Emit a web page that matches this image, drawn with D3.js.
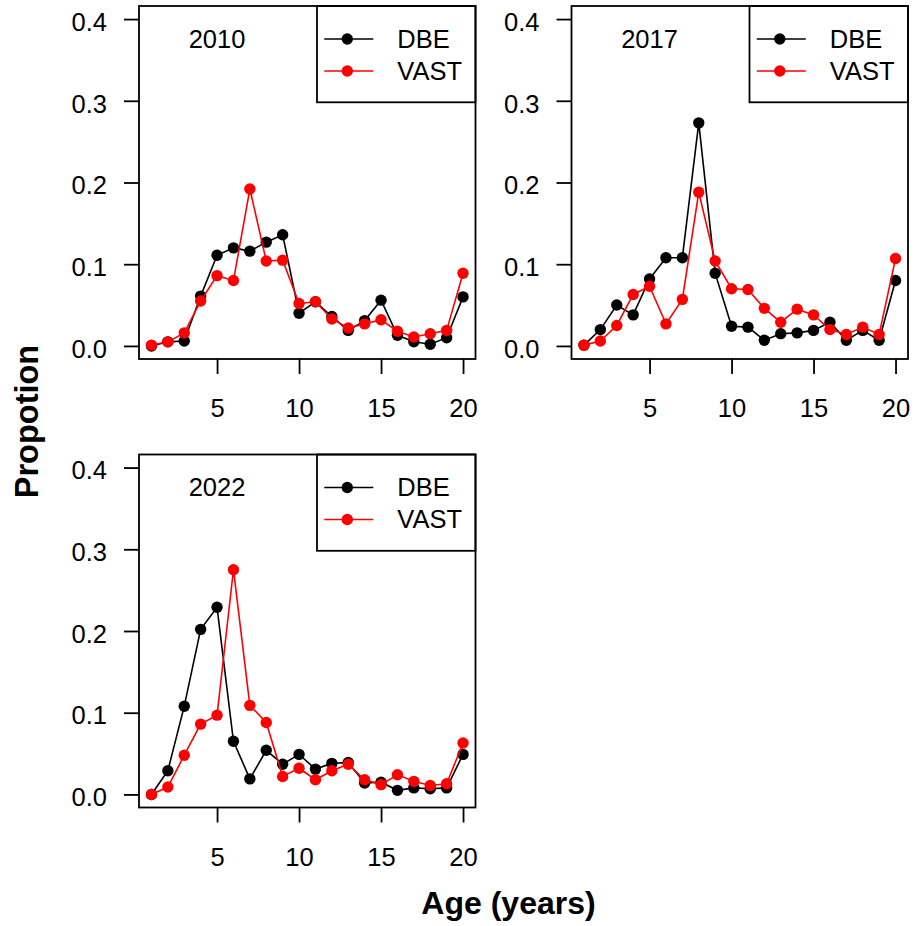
<!DOCTYPE html>
<html>
<head>
<meta charset="utf-8">
<script src="https://cdn.jsdelivr.net/npm/d3@7"></script>
<style>
  html, body { margin: 0; padding: 0; background: #fff; }
  svg { display: block; font-family: "Liberation Sans", Arial, Helvetica, sans-serif; }
</style>
</head>
<body>
<svg id="chart" width="914" height="926"></svg>
<script>
const ages = d3.range(1, 21);
const years = ["2010", "2017", "2022"];
const seriesNames = ["DBE", "VAST"];
const seriesColors = ["#000000", "#ff0000"];
const yTicks = [0.0, 0.1, 0.2, 0.3, 0.4];
const xTicks = [5, 10, 15, 20];

const dbe2010  = [0.000, 0.005, 0.006, 0.061, 0.111, 0.120, 0.116, 0.127, 0.136, 0.040, 0.054, 0.036, 0.019, 0.031, 0.056, 0.013, 0.005, 0.002, 0.010, 0.060];
const vast2010 = [0.001, 0.005, 0.016, 0.055, 0.086, 0.080, 0.192, 0.104, 0.105, 0.052, 0.054, 0.033, 0.022, 0.027, 0.032, 0.018, 0.011, 0.015, 0.019, 0.089];
const dbe2017  = [0.001, 0.020, 0.050, 0.038, 0.082, 0.108, 0.108, 0.273, 0.089, 0.024, 0.023, 0.007, 0.015, 0.016, 0.019, 0.029, 0.007, 0.019, 0.007, 0.080];
const vast2017 = [0.001, 0.006, 0.025, 0.063, 0.073, 0.027, 0.057, 0.188, 0.104, 0.070, 0.069, 0.046, 0.029, 0.045, 0.038, 0.020, 0.014, 0.023, 0.014, 0.107];
const dbe2022  = [0.000, 0.029, 0.108, 0.202, 0.229, 0.065, 0.019, 0.054, 0.037, 0.049, 0.031, 0.038, 0.039, 0.014, 0.015, 0.005, 0.008, 0.007, 0.008, 0.049];
const vast2022 = [0.000, 0.009, 0.048, 0.086, 0.097, 0.275, 0.109, 0.088, 0.022, 0.032, 0.018, 0.029, 0.037, 0.018, 0.012, 0.024, 0.016, 0.011, 0.013, 0.063];

const panels = [
  { year: years[0], series: [dbe2010, vast2010], x0: 139,   y0: 6 },
  { year: years[1], series: [dbe2017, vast2017], x0: 571.5, y0: 6 },
  { year: years[2], series: [dbe2022, vast2022], x0: 139,   y0: 454.5 }
];

const W = 336.5, H = 353;
const svg = d3.select("#chart");
const tickLen = 15;
const fontSize = 25.5;
const ff = '"Liberation Sans", Arial, sans-serif';

panels.forEach(p => {
  const g = svg.append("g").attr("transform", `translate(${p.x0},${p.y0})`);
  const x = d3.scaleLinear().domain([1 - 0.76, 20 + 0.76]).range([0, W]);
  const y = d3.scaleLinear().domain([-0.016, 0.416]).range([H, 0]);

  // x axis
  const xAxis = d3.axisBottom(x).tickValues(xTicks).tickFormat(d3.format("d"))
    .tickSizeOuter(0).tickSizeInner(tickLen).tickPadding(25);
  const gx = g.append("g").attr("transform", `translate(0,${H})`).call(xAxis);
  gx.select(".domain").remove();
  gx.selectAll("line").attr("stroke", "#000").attr("stroke-width", 1.8);
  gx.selectAll("text").attr("font-size", fontSize).attr("fill", "#000").attr("font-family", ff);

  // y axis
  const yAxis = d3.axisLeft(y).tickValues(yTicks).tickFormat(d3.format(".1f"))
    .tickSizeOuter(0).tickSizeInner(tickLen).tickPadding(17);
  const gy = g.append("g").call(yAxis);
  gy.select(".domain").remove();
  gy.selectAll("line").attr("stroke", "#000").attr("stroke-width", 1.8);
  gy.selectAll("text").attr("font-size", fontSize).attr("fill", "#000").attr("font-family", ff)
    .attr("dy", "0.44em");

  // series
  const line = d3.line().x((d, i) => x(ages[i])).y(d => y(d));
  p.series.forEach((vals, si) => {
    g.append("path").datum(vals).attr("d", line)
      .attr("fill", "none").attr("stroke", seriesColors[si]).attr("stroke-width", 1.6);
    g.selectAll(null).data(vals).enter().append("circle")
      .attr("cx", (d, i) => x(ages[i])).attr("cy", d => y(d)).attr("r", 5.7)
      .attr("fill", seriesColors[si]);
  });

  // year label
  g.append("text").attr("x", x(5)).attr("y", y(0.376)).attr("dy", "0.35em")
    .attr("text-anchor", "middle").attr("font-size", fontSize).text(p.year);

  // legend
  const lx = 178, lh = 96.3;
  g.append("rect").attr("x", lx).attr("y", 0).attr("width", W - lx).attr("height", lh)
    .attr("fill", "#fff").attr("stroke", "#000").attr("stroke-width", 1.8);
  const rows = [33, 65];
  seriesNames.forEach((name, si) => {
    g.append("line").attr("x1", lx + 7.3).attr("x2", lx + 56.3).attr("y1", rows[si]).attr("y2", rows[si])
      .attr("stroke", seriesColors[si]).attr("stroke-width", 1.6);
    g.append("circle").attr("cx", lx + 30.3).attr("cy", rows[si]).attr("r", 5.7).attr("fill", seriesColors[si]);
    g.append("text").attr("x", lx + 80.3).attr("y", rows[si]).attr("dy", "0.35em")
      .attr("font-size", fontSize).attr("fill", "#000").text(name);
  });

  // box
  g.append("rect").attr("x", 0).attr("y", 0).attr("width", W).attr("height", H)
    .attr("fill", "none").attr("stroke", "#000").attr("stroke-width", 1.8);
});

// outer axis titles
svg.append("text").attr("transform", "translate(38,421.5) rotate(-90)")
  .attr("text-anchor", "middle").attr("font-size", 32.5).attr("font-weight", "bold").text("Propotion");
svg.append("text").attr("x", 508.5).attr("y", 913.5)
  .attr("text-anchor", "middle").attr("font-size", 32).attr("font-weight", "bold").text("Age (years)");
</script>
</body>
</html>
